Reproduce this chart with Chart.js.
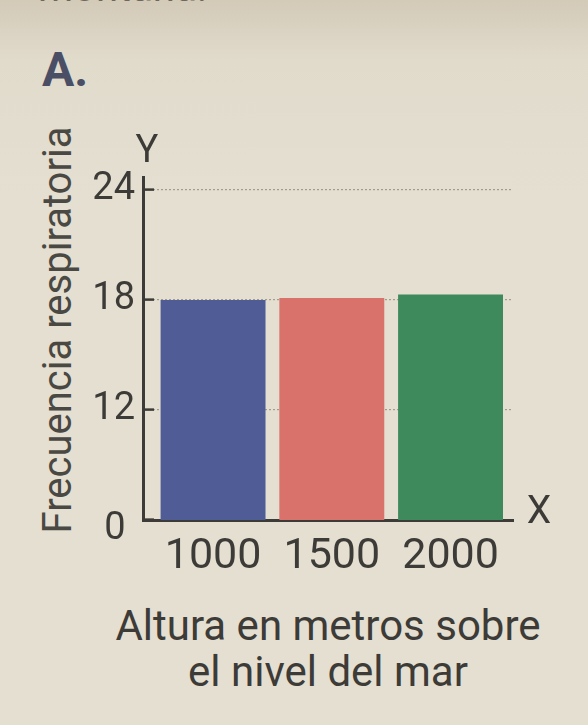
<!DOCTYPE html>
<html lang="es">
<head>
    <meta charset="UTF-8">
    <title>Frecuencia respiratoria</title>
    <script src="https://cdn.jsdelivr.net/npm/chart.js"></script>
    <style>
        body {
            margin: 0;
            background-color: #e3ded0;
            font-family: Roboto, sans-serif;
        }

        .wrap {
            position: relative;
            width: 588px;
            height: 725px;
            overflow: hidden;
            background: linear-gradient(to bottom, #d3cab8 0px, #e1dbcc 60px, #e4dfd1 200px);
        }

        /* Bottom of the previous text line, cut off by the photo */
        .cut {
            position: absolute;
            left: 38px;
            top: -32px;
            font-size: 40px;
            line-height: 40px;
            color: #6d685f;
        }

        /* Panel letter */
        .panel {
            position: absolute;
            left: 42px;
            top: 46px;
            font-size: 48px;
            line-height: 48px;
            font-weight: 700;
            color: #4a4f66;
        }

        /* Rotated y-axis title */
        .ytitle {
            position: absolute;
            left: -172px;
            top: 305px;
            width: 460px;
            height: 50px;
            line-height: 50px;
            font-size: 40px;
            text-align: center;
            color: #4a4843;
            transform: rotate(-90deg);
            white-space: nowrap;
        }

        /* Two-line x-axis title */
        .xtitle {
            position: absolute;
            left: 0;
            top: 603px;
            width: 656px;
            font-size: 42px;
            line-height: 46px;
            text-align: center;
            color: #3d3b37;
            white-space: nowrap;
        }

        canvas {
            position: absolute;
            left: 0;
            top: 0;
        }
    </style>
</head>
<body>
    <div class="wrap">
        <div class="cut">montaña.</div>
        <div class="panel">A.</div>
        <div class="ytitle">Frecuencia respiratoria</div>
        <div class="xtitle" id="xtitle"></div>
        <canvas id="chart" width="588" height="725"></canvas>
    </div>

    <script>
        // Data
        const altitudes = [1000, 1500, 2000];
        const respRate = [18.0, 18.1, 18.3];
        const barColors = ['#4f5c96', '#d8726b', '#3f8a5d'];

        // The y axis is broken below 12: the "0" label sits where 6 would be
        const yTickValues = [6, 12, 18, 24];
        const yTickLabels = ['0', '12', '18', '24'];

        const xTitle = ['Altura en metros sobre', 'el nivel del mar'];

        const ink = '#3d3b37';

        document.getElementById('xtitle').innerHTML = xTitle.join('<br>');

        // "Y" and "X" letters at the ends of the axes
        const axisLetters = {
            id: 'axisLetters',
            afterDraw(chart) {
                const { ctx, chartArea } = chart;
                ctx.save();
                ctx.fillStyle = ink;
                ctx.textAlign = 'center';
                ctx.textBaseline = 'alphabetic';
                ctx.font = '38px Roboto';
                ctx.fillText('Y', chartArea.left + 4, chartArea.top - 15);
                ctx.font = '39px Roboto';
                ctx.fillText('X', chartArea.right + 26, chartArea.bottom + 3);
                ctx.restore();
            }
        };

        Chart.defaults.font.family = 'Roboto';

        new Chart(document.getElementById('chart').getContext('2d'), {
            type: 'bar',
            data: {
                labels: altitudes,
                datasets: [{
                    data: respRate,
                    backgroundColor: barColors,
                    barPercentage: 0.94,
                    categoryPercentage: 0.94
                }]
            },
            options: {
                responsive: false,
                animation: false,
                layout: { padding: { top: 177, right: 75, bottom: 0, left: 0 } },
                plugins: {
                    legend: { display: false },
                    tooltip: { enabled: false }
                },
                scales: {
                    x: {
                        type: 'linear',
                        min: 705,
                        max: 2263,
                        offset: false,
                        afterBuildTicks: s => { s.ticks = altitudes.map(v => ({ value: v })); },
                        afterFit: s => { s.height = 205; },
                        grid: { display: false, drawTicks: false, offset: false },
                        border: { display: true, color: ink, width: 3 },
                        ticks: {
                            color: ink,
                            padding: 11,
                            font: { size: 43 },
                            callback: v => String(v)
                        }
                    },
                    y: {
                        min: 6,
                        max: 24.7,
                        afterBuildTicks: s => { s.ticks = yTickValues.map(v => ({ value: v })); },
                        afterFit: s => { s.width = 143; },
                        grid: {
                            color: '#a29c90',
                            lineWidth: 1.2,
                            drawTicks: true,
                            tickLength: -11,
                            tickColor: ink,
                            tickWidth: 2.5
                        },
                        border: { display: true, color: ink, width: 3, dash: [2, 2] },
                        ticks: {
                            color: ink,
                            padding: 19,
                            font: { size: 38, lineHeight: 0.5 },
                            callback: (v, i) => i === 0 ? ['', yTickLabels[i] + ' '] : yTickLabels[i]
                        }
                    }
                }
            },
            plugins: [axisLetters]
        });
    </script>
</body>
</html>
